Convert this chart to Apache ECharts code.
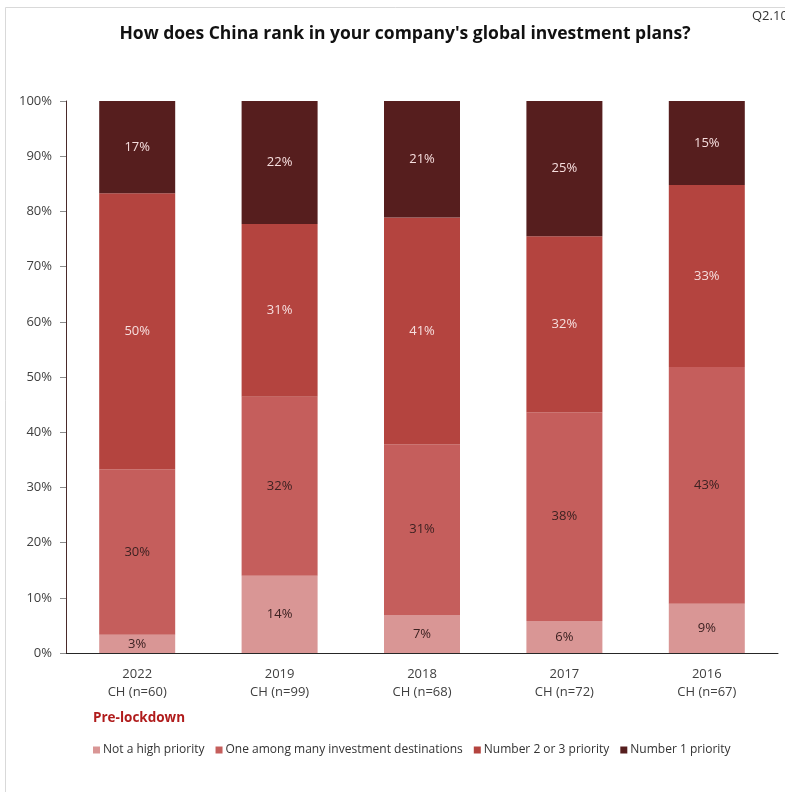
<!DOCTYPE html>
<html>
<head>
<meta charset="utf-8">
<script src="https://cdn.jsdelivr.net/npm/echarts@6/dist/echarts.min.js"></script>
<style>
  html, body { margin: 0; padding: 0; background: #ffffff; }
  #chart { width: 785px; height: 792px; }
</style>
</head>
<body>
<div id="chart"></div>
<script>
// Survey waves (x-axis), newest first
const years = ['2022', '2019', '2018', '2017', '2016'];
const sampleSizes = ['CH (n=60)', 'CH (n=99)', 'CH (n=68)', 'CH (n=72)', 'CH (n=67)'];

// Share of respondents per answer, in percent
const notHighPriority = [3.3, 14.0, 6.9, 5.8, 8.9];
const oneAmongMany = [30.0, 32.4, 30.9, 37.8, 42.9];
const number2or3 = [50.0, 31.3, 41.1, 31.9, 33.0];
const number1 = [16.7, 22.3, 21.1, 24.5, 15.2];

const seriesNames = [
  'Not a high priority',
  'One among many investment destinations',
  'Number 2 or 3 priority',
  'Number 1 priority'
];
const seriesColors = ['#d99695', '#c55e5c', '#b4443f', '#561e1e'];
const labelColors = ['#3d2222', '#3d2222', '#f6dede', '#f6dede'];
const seriesData = [notHighPriority, oneAmongMany, number2or3, number1];

const yTicks = [0, 10, 20, 30, 40, 50, 60, 70, 80, 90, 100];

const FONT = '"Open Sans", "Noto Sans", sans-serif';

const chart = echarts.init(document.getElementById('chart'));

chart.setOption({
  backgroundColor: '#ffffff',
  animation: false,
  textStyle: { fontFamily: FONT },
  title: {
    text: "How does China rank in your company's global investment plans?",
    left: 400,
    top: 20,
    textAlign: 'center',
    textStyle: { fontSize: 17.5, fontWeight: 'bold', color: '#111111', fontFamily: FONT }
  },
  graphic: [
    {
      type: 'rect',
      silent: true,
      shape: { x: 5.5, y: 7.5, width: 900, height: 900 },
      style: { fill: 'none', stroke: '#d9d9d9', lineWidth: 1 }
    },
    {
      type: 'text',
      left: 752,
      top: 10,
      style: { text: 'Q2.10', fontSize: 13, fill: '#333333', fontFamily: FONT }
    },
    {
      type: 'text',
      left: 93,
      top: 711,
      style: { text: 'Pre-lockdown', fontSize: 13.5, fontWeight: 'bold', fill: '#b01c1c', fontFamily: FONT }
    }
  ],
  legend: {
    left: 88,
    top: 739,
    icon: 'rect',
    itemWidth: 7,
    itemHeight: 7,
    itemGap: 11,
    textStyle: { fontSize: 12, color: '#333333', fontFamily: FONT, padding: [0, 0, 0, -2] },
    data: seriesNames
  },
  grid: { left: 66, right: 7, top: 101, bottom: 139, containLabel: false },
  xAxis: {
    type: 'category',
    data: years,
    axisLine: { lineStyle: { color: '#262626', width: 1 } },
    axisTick: { show: false },
    axisLabel: {
      color: '#404040',
      fontSize: 13,
      lineHeight: 18,
      margin: 12,
      formatter: function (value, index) {
        return value + '\n' + sampleSizes[index];
      }
    }
  },
  yAxis: {
    type: 'value',
    min: 0,
    max: 100,
    interval: 10,
    splitLine: { show: false },
    axisLine: { show: true, lineStyle: { color: '#4a2a2a', width: 1 } },
    axisTick: { show: true, inside: false, length: 6, lineStyle: { color: '#8c8c8c' } },
    axisLabel: {
      color: '#404040',
      fontSize: 13,
      margin: 14,
      formatter: function (v) { return yTicks.indexOf(v) >= 0 ? v + '%' : ''; }
    }
  },
  series: seriesData.map(function (values, i) {
    return {
      name: seriesNames[i],
      type: 'bar',
      stack: 'total',
      barWidth: 76,
      data: values,
      itemStyle: { color: seriesColors[i] },
      label: {
        show: true,
        position: 'inside',
        color: labelColors[i],
        fontSize: 13,
        fontFamily: FONT,
        formatter: function (p) { return Math.round(p.value) + '%'; }
      }
    };
  })
});
</script>
</body>
</html>
